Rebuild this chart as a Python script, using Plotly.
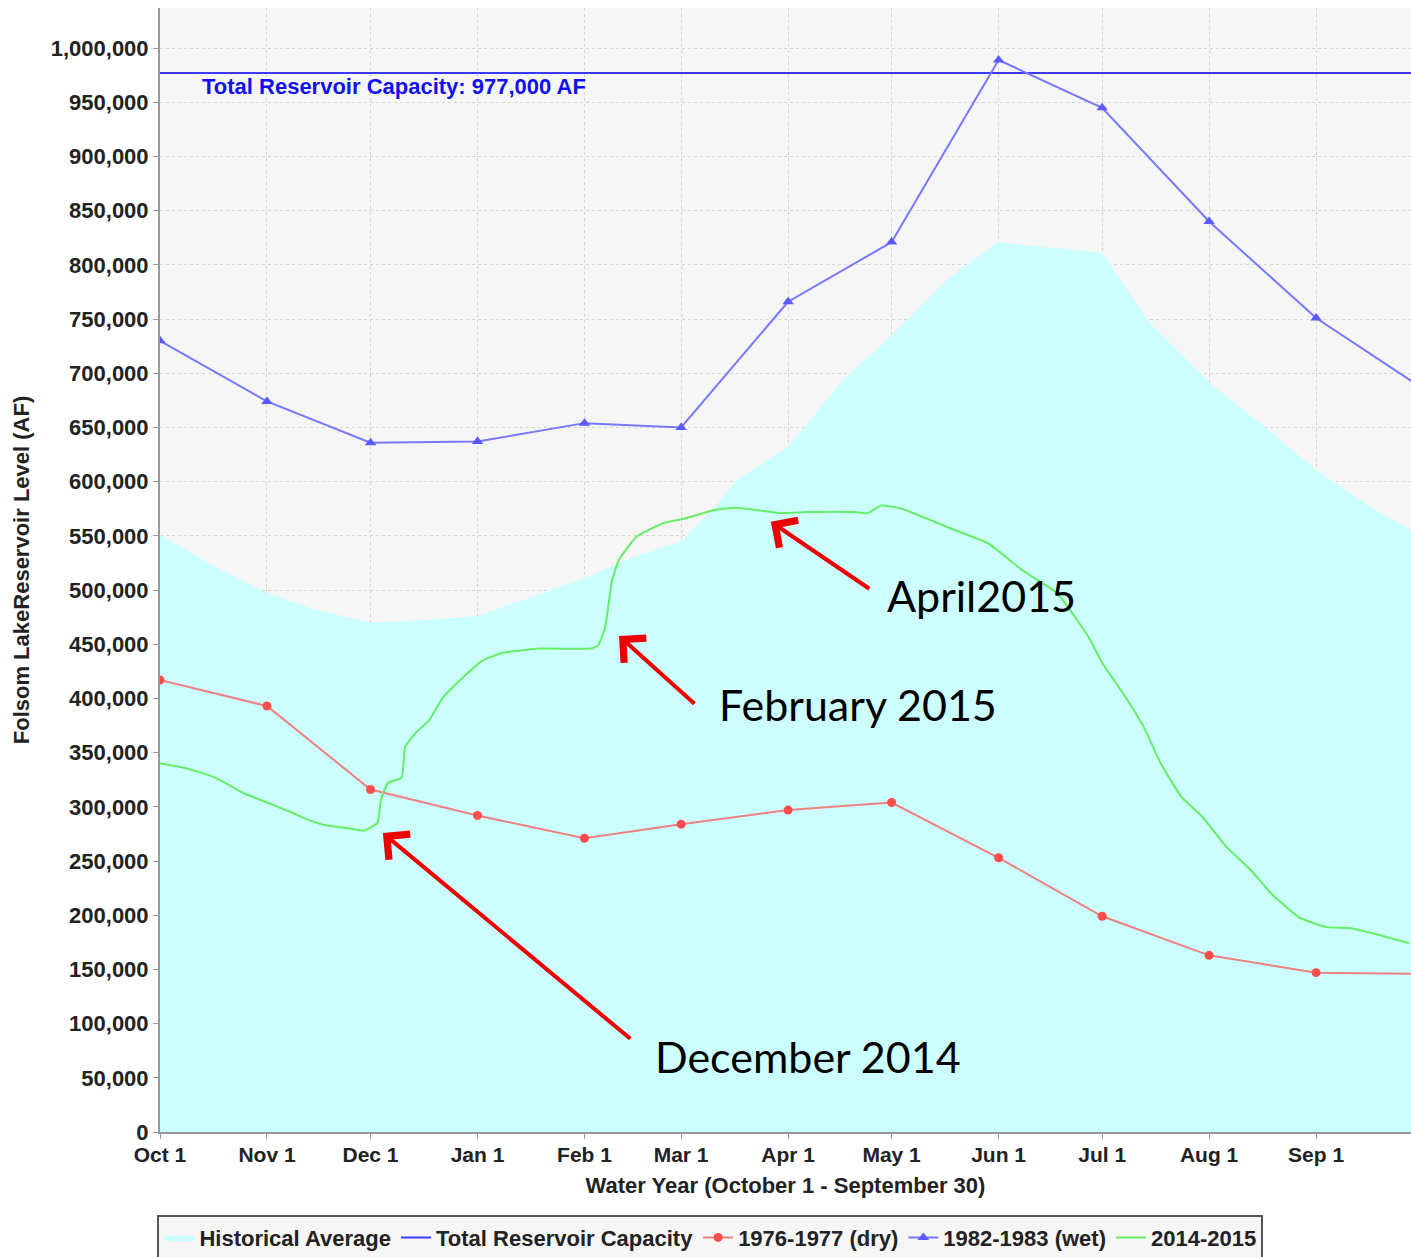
import plotly.graph_objects as go

# --- data (acre-feet) ---
hist_dates = ["2014-10-01", "2014-10-15", "2014-11-01", "2014-11-15", "2014-12-01",
              "2014-12-15", "2015-01-01", "2015-01-15", "2015-02-01", "2015-02-15",
              "2015-03-01", "2015-03-10", "2015-03-17", "2015-04-01", "2015-04-17",
              "2015-05-01", "2015-05-18", "2015-06-01", "2015-07-01", "2015-07-15",
              "2015-08-01", "2015-08-18", "2015-09-01", "2015-09-18", "2015-09-30"]
hist_avg = [551000, 525000, 497000, 482000, 470000,
            472000, 476000, 492000, 511000, 530000,
            545000, 574000, 601000, 632000, 694000,
            735000, 789000, 821000, 811000, 746000,
            692000, 648000, 611000, 574000, 553000]

capacity = 977000
cap_dates = ["2014-10-01", "2015-10-01"]

month_dates = ["2014-10-01", "2014-11-01", "2014-12-01", "2015-01-01", "2015-02-01",
               "2015-03-01", "2015-04-01", "2015-05-01", "2015-06-01", "2015-07-01",
               "2015-08-01", "2015-09-01", "2015-09-30"]
dry_1977 = [417000, 393000, 316000, 292000, 271000, 284000, 297000, 304000,
            253000, 199000, 163000, 147000, 146000]
wet_1983 = [730000, 674000, 636000, 637000, 654000, 650000, 766000, 821000,
            989000, 945000, 840000, 751000, 690000]

wy_dates = ["2014-10-01", "2014-10-08", "2014-10-17", "2014-10-25", "2014-11-01",
            "2014-11-08", "2014-11-13", "2014-11-18", "2014-11-25", "2014-11-29",
            "2014-12-03", "2014-12-04", "2014-12-06", "2014-12-10", "2014-12-11",
            "2014-12-14", "2014-12-18", "2014-12-22", "2014-12-27", "2015-01-02",
            "2015-01-08", "2015-01-19", "2015-02-03", "2015-02-05", "2015-02-07",
            "2015-02-09", "2015-02-11", "2015-02-16", "2015-02-24", "2015-03-02",
            "2015-03-11", "2015-03-17", "2015-03-30", "2015-04-07", "2015-04-20",
            "2015-04-24", "2015-04-28", "2015-05-04", "2015-05-18", "2015-05-29",
            "2015-06-08", "2015-06-18", "2015-06-27", "2015-07-01", "2015-07-07",
            "2015-07-13", "2015-07-18", "2015-07-24", "2015-07-30", "2015-08-06",
            "2015-08-13", "2015-08-19", "2015-08-27", "2015-09-04", "2015-09-11",
            "2015-09-19", "2015-09-28"]
wy_2015 = [340000, 336000, 327000, 313000, 304000,
           295000, 288000, 283000, 280000, 278000,
           285000, 306000, 322000, 327000, 355000,
           368000, 380000, 401000, 417000, 434000,
           442000, 446000, 446000, 449000, 466000,
           509000, 528000, 549000, 562000, 566000,
           574000, 576000, 571000, 572000, 572000,
           571000, 578000, 575000, 557000, 543000,
           518000, 497000, 457000, 433000, 405000,
           374000, 340000, 309000, 291000, 263000,
           242000, 220000, 198000, 189000, 188000,
           182000, 174000]

tick_vals = month_dates[:-1]
tick_text = ["Oct 1", "Nov 1", "Dec 1", "Jan 1", "Feb 1", "Mar 1", "Apr 1",
             "May 1", "Jun 1", "Jul 1", "Aug 1", "Sep 1"]

# callouts: (label, arrow head date, arrow head value, tail offset px x/y, text pos in paper)
callouts = [
    ("April2015", "2015-03-27", 563000, 100, 68, 0.5795, 0.4769),
    ("February 2015", "2015-02-11", 457600, 77, 69, 0.4452, 0.3799),
    ("December 2014", "2014-12-04 14:00", 275800, 249, 207, 0.3941, 0.0676),
]

font_main = "Liberation Sans"
txt = "#222222"

fig = go.Figure()
fig.add_trace(go.Scatter(
    x=hist_dates, y=hist_avg, name="Historical Average", mode="lines",
    line=dict(width=0, color="#ccffff"), fill="tozeroy", fillcolor="#ccffff"))
fig.add_trace(go.Scatter(
    x=cap_dates, y=[capacity, capacity], name="Total Reservoir Capacity",
    mode="lines", line=dict(color="#3a3aff", width=2)))
fig.add_trace(go.Scatter(
    x=month_dates, y=dry_1977, name="1976-1977 (dry)", mode="lines+markers",
    line=dict(color="#f08080", width=2),
    marker=dict(symbol="circle", size=9, color="#ff4d4d")))
fig.add_trace(go.Scatter(
    x=month_dates, y=wet_1983, name="1982-1983 (wet)", mode="lines+markers",
    line=dict(color="#7878ff", width=2),
    marker=dict(symbol="triangle-up", size=10, color="#5a5aff")))
fig.add_trace(go.Scatter(
    x=wy_dates, y=wy_2015, name="2014-2015", mode="lines",
    line=dict(color="#66ee66", width=2, shape="spline", smoothing=0.4)))

annotations = [dict(
    text="<b>Total Reservoir Capacity: 977,000 AF</b>", xref="paper", yref="paper",
    x=0.032, y=0.9306, xanchor="left", yanchor="middle", showarrow=False,
    font=dict(family=font_main, size=22, color="#1010ee"))]
for label, hx, hy, ax, ay, tx, ty in callouts:
    annotations.append(dict(
        x=hx, y=hy, xref="x", yref="y", text="", showarrow=True,
        ax=ax, ay=ay, arrowhead=4, arrowsize=1.6, arrowwidth=4, arrowcolor="#ee0000"))
    annotations.append(dict(
        text=label, xref="paper", yref="paper", x=tx, y=ty,
        xanchor="left", yanchor="middle", showarrow=False,
        font=dict(family="Lato", size=43, color="black")))

fig.update_layout(
    width=1411, height=1257,
    margin=dict(l=160, r=0, t=8, b=125, autoexpand=False),
    paper_bgcolor="white", plot_bgcolor="#f6f6f6",
    font=dict(family=font_main, size=22, color=txt),
    showlegend=True,
    legend=dict(
        orientation="h", x=0.44, xanchor="center", y=-0.0735, yanchor="top",
        bgcolor="#f6f6f6", bordercolor="#555555", borderwidth=2,
        font=dict(family=font_main, size=22, color=txt, weight="bold"),
        itemwidth=30, tracegroupgap=0),
    annotations=annotations,
    hovermode=False,
)
fig.update_xaxes(
    type="date", range=["2014-10-01", "2015-09-28 12:00"],
    tickvals=tick_vals, ticktext=tick_text,
    tickfont=dict(family=font_main, size=21, color=txt, weight="bold"),
    ticklabelstandoff=-2,
    title=dict(text="<b>Water Year (October 1 - September 30)</b>",
               font=dict(family=font_main, size=22, color=txt), standoff=12),
    showgrid=True, gridcolor="#d4d4d4", griddash="3px,3px", gridwidth=1,
    showline=True, linecolor="#999999", linewidth=2,
    ticks="outside", ticklen=5, tickcolor="#999999", zeroline=False,
)
fig.update_yaxes(
    range=[0, 1037000], dtick=50000, tickformat=",",
    tickfont=dict(family=font_main, size=22, color=txt, weight="bold"),
    title=dict(text="<b>Folsom LakeReservoir Level (AF)</b>",
               font=dict(family=font_main, size=22, color=txt)),
    showgrid=True, gridcolor="#d4d4d4", griddash="3px,3px", gridwidth=1,
    showline=True, linecolor="#999999", linewidth=2,
    ticks="outside", ticklen=5, tickcolor="#999999", zeroline=False,
)

# drop the default page margin so the figure sits at the window's top-left corner
fig.write_html("out.html", config={"displayModeBar": False},
               post_script="document.body.style.margin='0';"
                           "document.body.style.overflow='hidden';")
